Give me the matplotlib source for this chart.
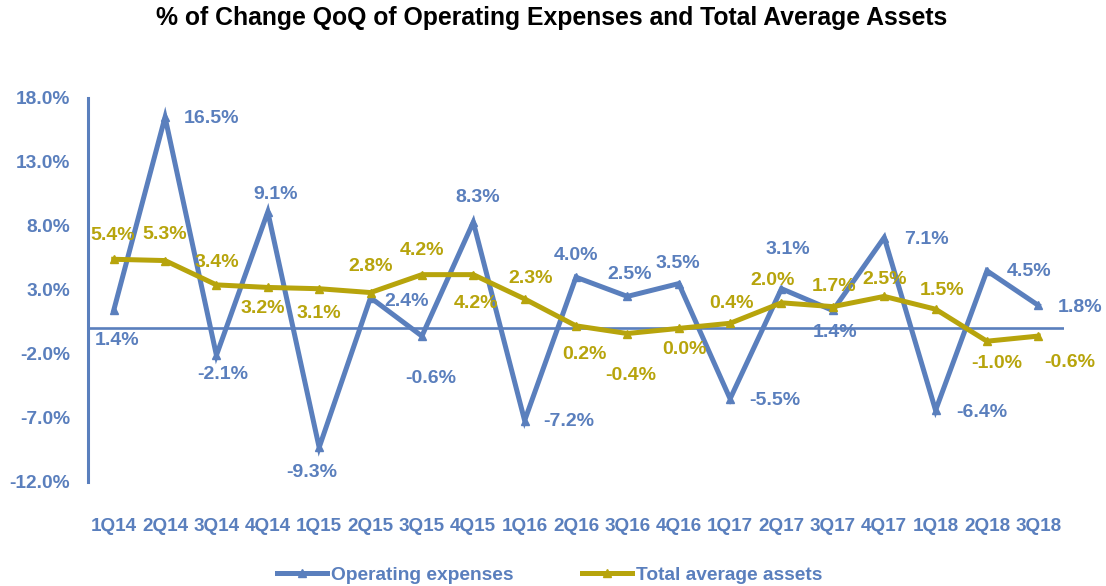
"""QoQ change of operating expenses vs. total average assets (Agg backend)."""

import matplotlib

matplotlib.use("Agg")
import matplotlib.pyplot as plt
from matplotlib.ticker import FuncFormatter

quarters = [
    "1Q14", "2Q14", "3Q14", "4Q14", "1Q15", "2Q15", "3Q15", "4Q15", "1Q16", "2Q16",
    "3Q16", "4Q16", "1Q17", "2Q17", "3Q17", "4Q17", "1Q18", "2Q18", "3Q18",
]
opex_chg = [1.4, 16.5, -2.1, 9.1, -9.3, 2.4, -0.6, 8.3, -7.2, 4.0,
            2.5, 3.5, -5.5, 3.1, 1.4, 7.1, -6.4, 4.5, 1.8]
assets_chg = [5.4, 5.3, 3.4, 3.2, 3.1, 2.8, 4.2, 4.2, 2.3, 0.2,
              -0.4, 0.0, 0.4, 2.0, 1.7, 2.5, 1.5, -1.0, -0.6]
y_ticks = [-12, -7, -2, 3, 8, 13, 18]

# label placement, pixel offsets (dx, dy) from each point
opex_lbl_off = [(3, -30), (46, -1), (6, -19), (8, 17), (-7, -25), (36, -4), (9, -42),
                (4, 25), (44, -1), (0, 22), (2, 22), (-1, 20), (45, -2), (6, 39),
                (2, -22), (42, -2), (46, -2), (42, -1), (42, -2)]
assets_lbl_off = [(-1, 24), (0, 26), (0, 22), (-5, -21), (0, -25), (0, 26), (0, 24),
                  (3, -29), (6, 20), (8, -29), (3, -42), (6, -21), (1, 20), (-9, 22),
                  (1, 20), (0, 17), (6, 19), (10, -22), (31, -26)]

BLUE = "#5A7FBD"
GOLD = "#B7A40C"
DPI = 100
PX = 72 / DPI

plt.rcParams["font.family"] = ["Liberation Sans", "DejaVu Sans"]
plt.rcParams["font.weight"] = "bold"

fig = plt.figure(figsize=(11.06, 5.86), dpi=DPI)
ax = fig.add_axes([88 / 1106, 104 / 586, (1064 - 88) / 1106, 384 / 586])

x = list(range(len(quarters)))
ax.plot(x, opex_chg, color=BLUE, lw=3.6, marker="^", ms=5.5,
        solid_joinstyle="miter", label="Operating expenses", zorder=3)
ax.plot(x, assets_chg, color=GOLD, lw=3.6, marker="^", ms=5.5,
        solid_joinstyle="miter", label="Total average assets", zorder=4)
ax.axhline(0, color=BLUE, lw=1.9, zorder=2)

for xi, v, (dx, dy) in zip(x, opex_chg, opex_lbl_off):
    ax.annotate(f"{v:.1f}%", (xi, v), xytext=(dx * PX, dy * PX), textcoords="offset points",
                ha="center", va="center", color=BLUE, fontsize=14, fontweight="bold")
for xi, v, (dx, dy) in zip(x, assets_chg, assets_lbl_off):
    ax.annotate(f"{v:.1f}%", (xi, v), xytext=(dx * PX, dy * PX), textcoords="offset points",
                ha="center", va="center", color=GOLD, fontsize=14, fontweight="bold")

ax.set_xlim(-0.5, len(quarters) - 0.5)
ax.set_ylim(-12, 18)
ax.set_yticks(y_ticks)
ax.yaxis.set_major_formatter(FuncFormatter(lambda v, _: f"{v:.1f}%"))
ax.set_xticks(x)
ax.set_xticklabels(quarters)
ax.tick_params(axis="y", length=0, pad=13, labelsize=13.8, labelcolor=BLUE)
ax.tick_params(axis="x", length=0, pad=26, labelsize=13.6, labelcolor=BLUE)
for lbl in ax.get_xticklabels() + ax.get_yticklabels():
    lbl.set_fontweight("bold")

for side in ("top", "right", "bottom"):
    ax.spines[side].set_visible(False)
ax.spines["left"].set_color(BLUE)
ax.spines["left"].set_linewidth(2.2)

fig.suptitle("% of Change QoQ of Operating Expenses and Total Average Assets",
             x=0.499, y=0.969, va="center", fontsize=17.8, fontweight="bold")

fig.legend(loc="center", bbox_to_anchor=(0.497, 0.019), ncol=2, frameon=False,
           handlelength=2.6, handletextpad=0.2, columnspacing=3.6,
           prop={"size": 13.8, "weight": "bold"}, labelcolor=BLUE)

fig.savefig("out.png", dpi=DPI)
plt.close(fig)
